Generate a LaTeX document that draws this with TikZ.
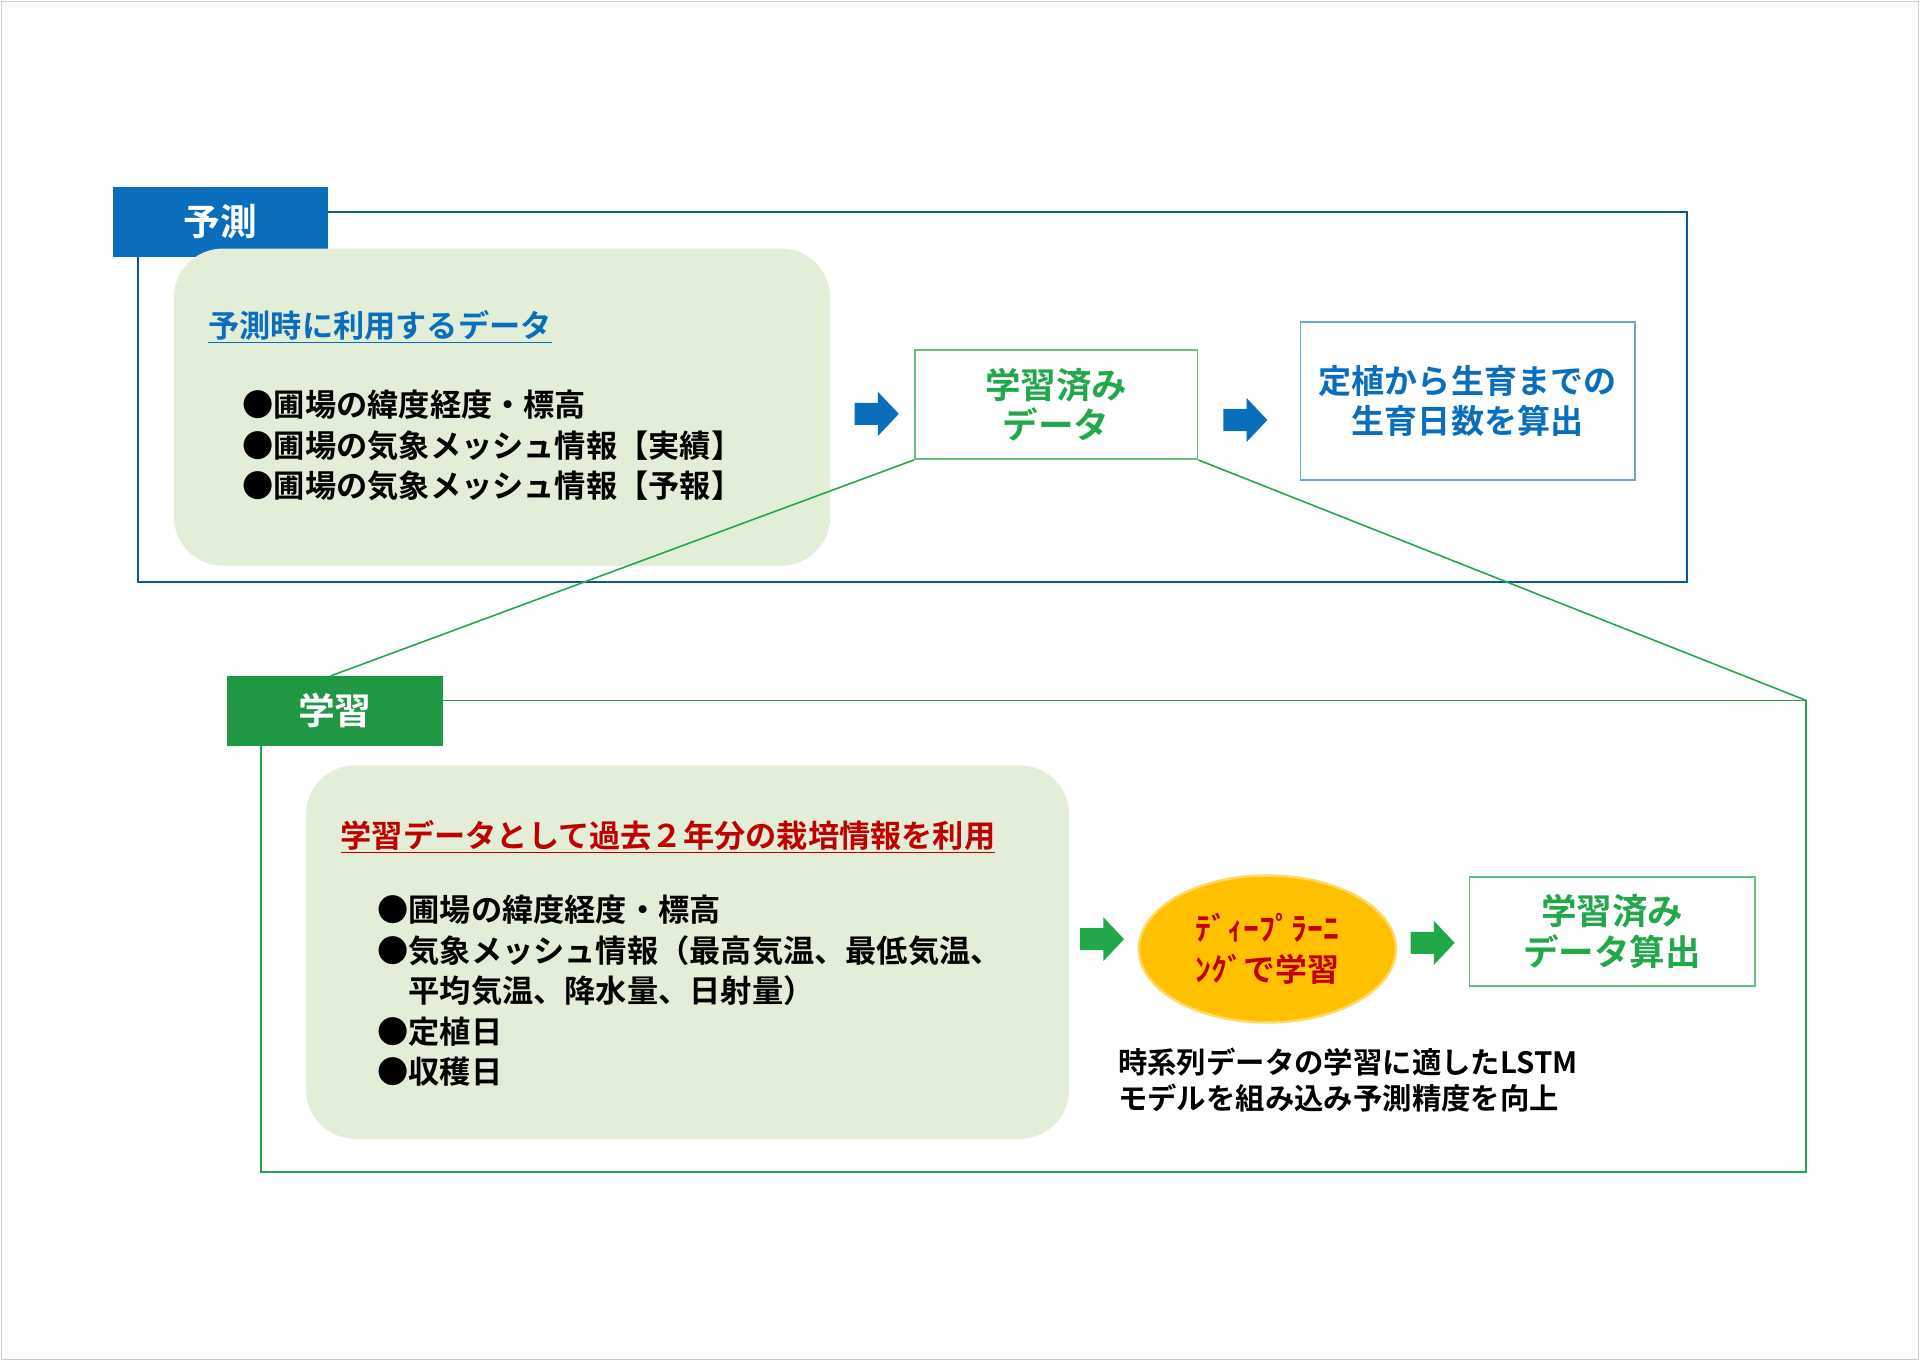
\documentclass[tikz,border=0pt]{standalone}
\usepackage{fontspec}
\setmainfont{Noto Sans CJK JP}[BoldFont={* Bold}]
\usetikzlibrary{shapes.geometric}
\definecolor{bl}{HTML}{0A6EBD}
\definecolor{gr}{HTML}{22A84A}
\definecolor{lg}{HTML}{E3EED8}
\definecolor{rd}{HTML}{C00000}
\definecolor{org}{HTML}{FFC000}
\begin{document}
\begin{tikzpicture}[x=1pt,y=-1pt,
 tx/.style={font=\fontsize{25.5}{33}\selectfont\bfseries,anchor=west,inner sep=0,align=left},
 tab/.style={minimum width=176pt,minimum height=57pt,inner sep=0,text=white,font=\fontsize{30}{30}\selectfont\bfseries},
 barr/.pic={\fill (-18,-9)--(1,-9)--(1,-18)--(18,0)--(1,18)--(1,9)--(-18,9)--cycle;},
 bx/.style={draw,line width=1.3pt,inner sep=0,font=\fontsize{29}{33}\selectfont\bfseries,align=center}]
\useasboundingbox (0,0) rectangle (1568,1111);
\draw[gray!40,line width=1pt] (1,1) rectangle (1567,1110);
% predict
\draw[bl!80!black,line width=1.5pt] (113,173) rectangle (1378,475);
\node[tab,fill=bl] (tp) at (180,181) {予測};
\fill[lg,rounded corners=40pt] (142,203) rectangle (678,462);
\node[tx,text=bl] (pt) at (170,267) {\underline{予測時に利用するデータ}};
\node[tx] (pb) at (198,364) {●圃場の緯度経度・標高\\●圃場の気象メッシュ情報【実績】\\●圃場の気象メッシュ情報【予報】};
\coordinate (a1) at (716,338); \pic[bl] at (a1) {barr};
\node[bx,draw=gr!70,text=gr,minimum width=231pt,minimum height=89pt] (m1) at (862.5,330.5) {学習済み\\データ};
\coordinate (a2) at (1017,343); \pic[bl] at (a2) {barr};
\node[bx,draw=bl!60,text=bl,minimum width=273pt,minimum height=129pt,font=\fontsize{27}{33}\selectfont\bfseries] (r1) at (1198.5,327.5) {定植から生育までの\\生育日数を算出};
% learn
\draw[gr,line width=1.3pt] (213,572) rectangle (1475,957);
\coordinate (c1) at (270,552);
\coordinate (c2) at (1475,572);
\draw[gr,line width=1.3pt] (m1.south west) -- (c1);
\draw[gr,line width=1.3pt] (m1.south east) -- (c2);
\node[tab,fill=gr!90!black] (tl) at (273.5,580.5) {学習};
\fill[lg,rounded corners=40pt] (250,625) rectangle (873,930);
\node[tx,text=rd] (lt) at (278,683) {\underline{学習データとして過去２年分の栽培情報を利用}};
\node[tx,anchor=north west] (lb) at (308,731) {●圃場の緯度経度・標高\\●気象メッシュ情報（最高気温、最低気温、\\\hphantom{●}平均気温、降水量、日射量）\\●定植日\\●収穫日};
\coordinate (a3) at (900,767); \pic[gr] at (a3) {barr};
\node[ellipse,fill=org,draw=org!60,line width=2pt,minimum width=210pt,minimum height=120pt,inner sep=0,text=rd,font=\fontsize{26}{33}\selectfont\bfseries,align=center] (e) at (1035,775) {ﾃﾞｨｰﾌﾟﾗｰﾆ\\ﾝｸﾞで学習};
\coordinate (a4) at (1170,770); \pic[gr] at (a4) {barr};
\node[bx,draw=gr!70,text=gr,minimum width=233pt,minimum height=89pt] (m2) at (1316.5,760.5) {学習済み\\データ算出};
\node[tx,font=\fontsize{24}{30}\selectfont\bfseries] (nt) at (913,882) {時系列データの学習に適したLSTM\\モデルを組み込み予測精度を向上};
\end{tikzpicture}
\end{document}
